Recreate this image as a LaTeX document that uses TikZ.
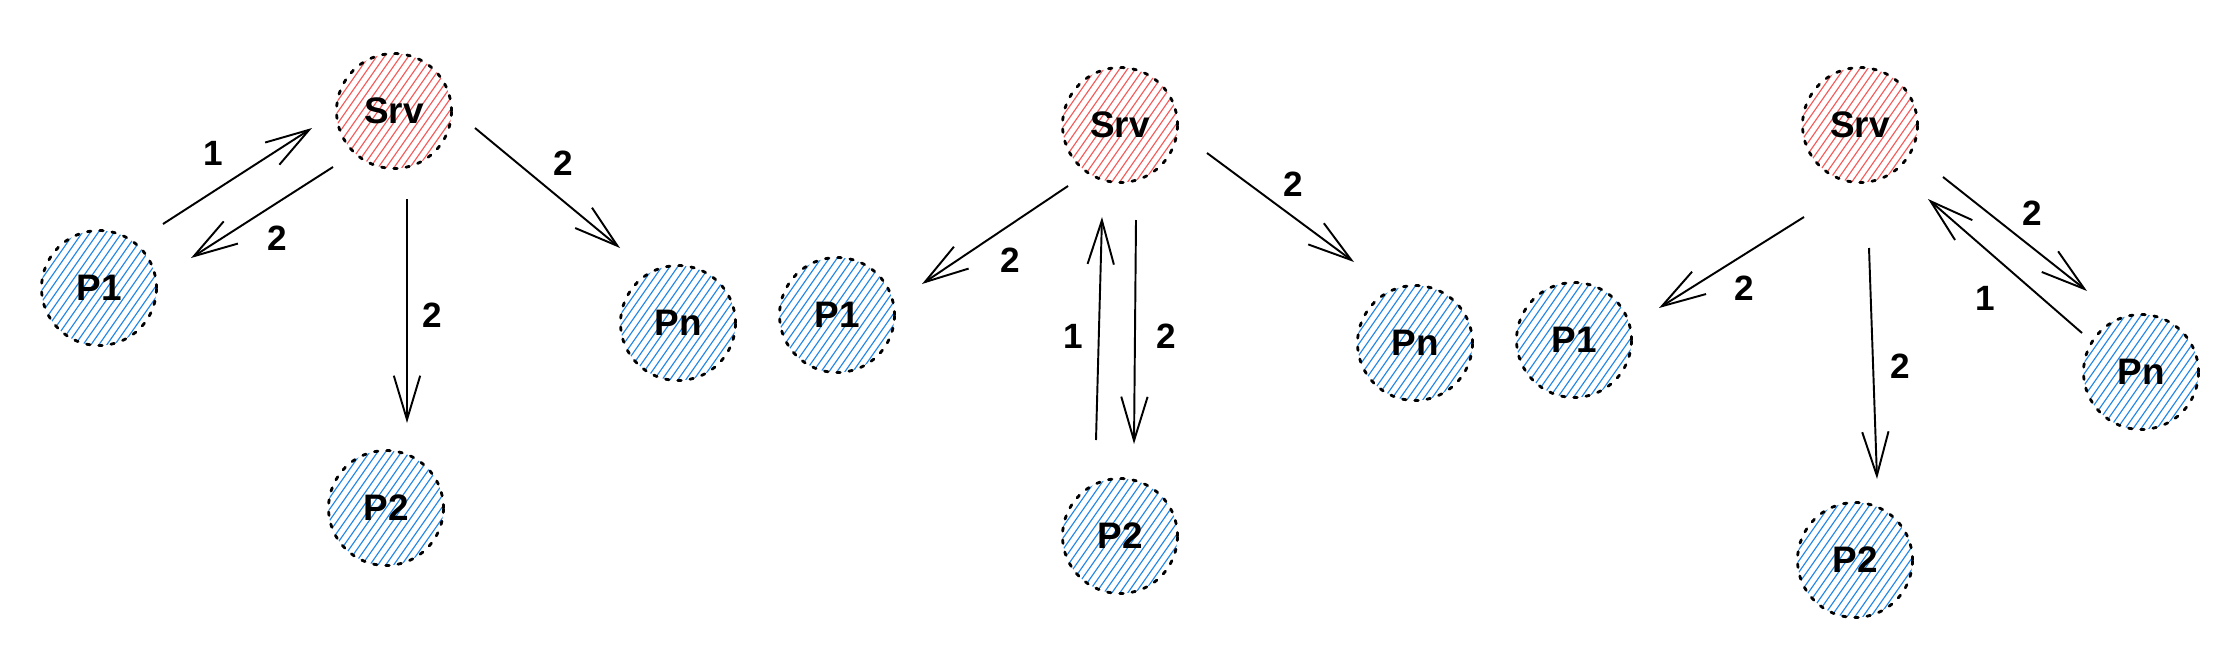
\documentclass[tikz,border=0pt]{standalone}
\usepackage{fontspec}
\setmainfont{Liberation Sans}
\usetikzlibrary{arrows.meta}
\definecolor{hatchred}{RGB}{245,90,90}
\definecolor{hatchblue}{RGB}{34,135,230}
\tikzset{
  hatchline/.style={solid,line width=0.65pt,line cap=butt},
  peer/.style={circle,minimum size=2.3cm,inner sep=0pt,
    draw=black,line width=1.6pt,dash pattern=on 2pt off 5pt,line cap=round,
    hatchcol=hatchblue,
    font=\fontsize{21}{24}\selectfont\bfseries},
  hatchcol/.style={path picture={
      \foreach \k in {-10,...,10}
        \draw[hatchline,draw=#1]
          ([shift={({\k*0.1065cm-0.8036cm},{-\k*0.0746cm-1.1466cm})}]path picture bounding box.center) --
          ([shift={({\k*0.1065cm+0.8036cm},{-\k*0.0746cm+1.1466cm})}]path picture bounding box.center);
    }},
  server/.style={peer,hatchcol=hatchred},
  arr/.style={line width=1.1pt,-{Straight Barb[length=25pt,width=15pt,line width=1.1pt]}},
  lbl/.style={font=\fontsize{20}{24}\selectfont\bfseries,inner sep=0pt}
}
\begin{document}
\begin{tikzpicture}[x=0.02cm,y=-0.02cm]
\useasboundingbox (0,0) rectangle (2224,660);
% ---------- panel 1
\node[server] (s1) at (394,111) {Srv};
\node[peer] (a1) at (99,288) {P1};
\node[peer] (b1) at (386,508) {P2};
\node[peer] (c1) at (678,323) {Pn};
\draw[arr] ([shift={(64,-64)}]a1.center) -- ([shift={(-82,17)}]s1.center);
\draw[arr] ([shift={(-61,56)}]s1.center) -- ([shift={(92,-30)}]a1.center);
\draw[arr] ([shift={(13,88)}]s1.center) -- ([shift={(21,-85)}]b1.center);
\draw[arr] ([shift={(81,17)}]s1.center) -- ([shift={(-58,-75)}]c1.center);
\node[lbl] (l11) at (213,153) {1};
\node[lbl] (l12) at (277,238) {2};
\node[lbl] (l13) at (432,315) {2};
\node[lbl] (l14) at (563,163) {2};
% ---------- panel 2
\node[server] (s2) at (1120,125) {Srv};
\node[peer] (a2) at (837,315) {P1};
\node[peer] (b2) at (1120,536) {P2};
\node[peer] (c2) at (1415,343) {Pn};
\draw[arr] ([shift={(-52,61)}]s2.center) -- ([shift={(85,-31)}]a2.center);
\draw[arr] ([shift={(-24,-96)}]b2.center) -- ([shift={(-18,92)}]s2.center);
\draw[arr] ([shift={(16,95)}]s2.center) -- ([shift={(14,-92)}]b2.center);
\draw[arr] ([shift={(87,28)}]s2.center) -- ([shift={(-61,-81)}]c2.center);
\node[lbl] (l21) at (1010,260) {2};
\node[lbl] (l22) at (1073,336) {1};
\node[lbl] (l23) at (1166,336) {2};
\node[lbl] (l24) at (1293,184) {2};
% ---------- panel 3
\node[server] (s3) at (1860,125) {Srv};
\node[peer] (a3) at (1574,340) {P1};
\node[peer] (b3) at (1855,560) {P2};
\node[peer] (c3) at (2141,372) {Pn};
\draw[arr] ([shift={(-56,92)}]s3.center) -- ([shift={(85,-32)}]a3.center);
\draw[arr] ([shift={(9,123)}]s3.center) -- ([shift={(22,-81)}]b3.center);
\draw[arr] ([shift={(83,52)}]s3.center) -- ([shift={(-54,-81)}]c3.center);
\draw[arr] ([shift={(-59,-39)}]c3.center) -- ([shift={(68,74)}]s3.center);
\node[lbl] (l31) at (1744,288) {2};
\node[lbl] (l32) at (1900,366) {2};
\node[lbl] (l33) at (2032,213) {2};
\node[lbl] (l34) at (1985,298) {1};
\end{tikzpicture}
\end{document}
